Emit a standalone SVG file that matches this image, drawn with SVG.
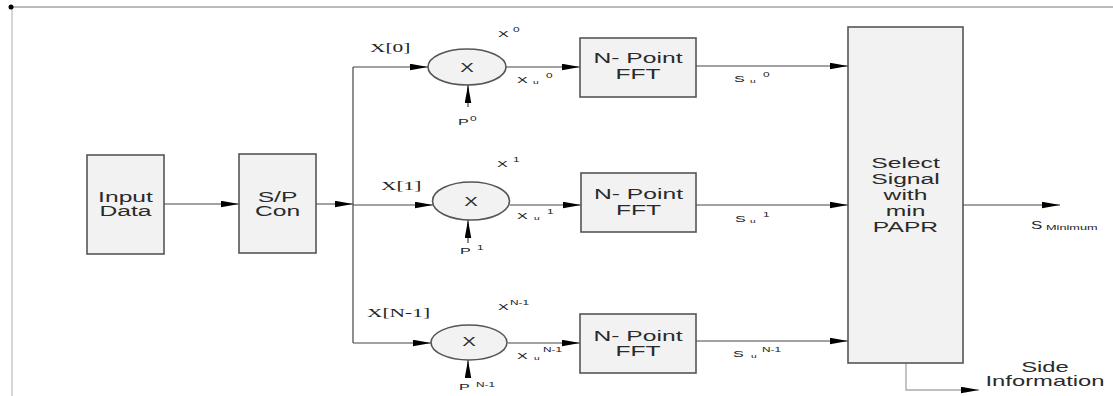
<svg xmlns="http://www.w3.org/2000/svg" width="1113" height="396" viewBox="0 0 1113 396">
<style>
.box{fill:#f2f2f2;stroke:#555;stroke-width:1.6}
.ln{fill:none;stroke:#444;stroke-width:1.2}
.lt{fill:none;stroke:#aaa;stroke-width:1.4}
.t{font-family:"Liberation Sans",Arial,sans-serif;font-size:14.5px;fill:#2a2a2a;text-anchor:middle}
.sf{font-family:"Liberation Serif","Times New Roman",serif;font-size:13px;fill:#222}
.sm{font-family:"Liberation Sans",Arial,sans-serif;font-size:9.5px;fill:#222}
.sup{font-family:"Liberation Sans",Arial,sans-serif;font-size:7px;fill:#222}
.sub{font-family:"Liberation Sans",Arial,sans-serif;font-size:6px;fill:#222}
</style>
<defs>
<marker id="ah" markerUnits="userSpaceOnUse" markerWidth="19" markerHeight="8" refX="18" refY="3.25" orient="auto">
<path d="M0,0 L18,3.25 L0,6.5 z" fill="#000"/>
</marker>
</defs>
<g id="frame">
<line x1="11" y1="7" x2="1113" y2="7" stroke="#777" stroke-width="1.2"/>
<line x1="12" y1="7" x2="12" y2="396" stroke="#ccc" stroke-width="1.6"/>
<circle cx="11" cy="7" r="2.5" fill="#000"/>
</g>
<g id="connectors">
<path class="ln" d="M164,204 H239" marker-end="url(#ah)"/>
<path class="ln" d="M316,204 H353" marker-end="url(#ah)"/>
<path class="ln" d="M353,67 V343"/>
<path class="ln" d="M353,67 H428" marker-end="url(#ah)"/>
<path class="ln" d="M353,205 H433" marker-end="url(#ah)"/>
<path class="ln" d="M353,343 H431" marker-end="url(#ah)"/>
<path class="ln" d="M506,67 H580" marker-end="url(#ah)"/>
<path class="ln" d="M510,205 H581" marker-end="url(#ah)"/>
<path class="ln" d="M508,343 H580" marker-end="url(#ah)"/>
<path class="ln" d="M468,107 V85" marker-end="url(#ah)"/>
<path class="ln" d="M468,243 V220" marker-end="url(#ah)"/>
<path class="ln" d="M468,378 V360" marker-end="url(#ah)"/>
<path class="ln" d="M696,66 H848" marker-end="url(#ah)"/>
<path class="ln" d="M696,205 H848" marker-end="url(#ah)"/>
<path class="ln" d="M696,341 H848" marker-end="url(#ah)"/>
<path class="ln" d="M963,205 H1060" marker-end="url(#ah)"/>
<path class="lt" d="M906,363 V390 H979" marker-end="url(#ah)"/>
</g>
<g id="input">
<rect class="box" x="87" y="155" width="77" height="99"/>
<text class="t" transform="translate(125.5,202) scale(1.7,1)">Input</text>
<text class="t" transform="translate(125.5,216) scale(1.7,1)">Data</text>
</g>
<g id="sp">
<rect class="box" x="239" y="154" width="77" height="99"/>
<text class="t" transform="translate(277.5,202) scale(1.7,1)">S/P</text>
<text class="t" transform="translate(277.5,216) scale(1.7,1)">Con</text>
</g>
<g id="mul0">
<ellipse class="box" cx="467" cy="67" rx="39" ry="18"/>
<text class="t" transform="translate(467,71.5) scale(1.7,1)" style="font-size:12px">X</text>
</g>
<g id="mul1">
<ellipse class="box" cx="471" cy="201" rx="38.5" ry="19"/>
<text class="t" transform="translate(471,205.5) scale(1.7,1)" style="font-size:12px">X</text>
</g>
<g id="mul2">
<ellipse class="box" cx="469" cy="342.5" rx="38" ry="17.5"/>
<text class="t" transform="translate(469,346) scale(1.7,1)" style="font-size:12px">X</text>
</g>
<g id="fft0">
<rect class="box" x="580" y="38" width="116" height="59"/>
<text class="t" transform="translate(638,63) scale(1.7,1)">N- Point</text>
<text class="t" transform="translate(638,79) scale(1.7,1)">FFT</text>
</g>
<g id="fft1">
<rect class="box" x="581" y="173" width="115" height="59"/>
<text class="t" transform="translate(638.5,199) scale(1.7,1)">N- Point</text>
<text class="t" transform="translate(638.5,215) scale(1.7,1)">FFT</text>
</g>
<g id="fft2">
<rect class="box" x="580" y="314" width="116" height="59"/>
<text class="t" transform="translate(638,341) scale(1.7,1)">N- Point</text>
<text class="t" transform="translate(638,356) scale(1.7,1)">FFT</text>
</g>
<g id="select">
<rect class="box" x="848" y="27" width="115" height="336"/>
<text class="t" transform="translate(905.5,168) scale(1.7,1)">Select</text>
<text class="t" transform="translate(905.5,184) scale(1.7,1)">Signal</text>
<text class="t" transform="translate(905.5,200) scale(1.7,1)">with</text>
<text class="t" transform="translate(905.5,216) scale(1.7,1)">min</text>
<text class="t" transform="translate(905.5,232) scale(1.7,1)">PAPR</text>
</g>
<g id="side">
<text class="t" transform="translate(1045,372) scale(1.7,1)" style="font-size:14px">Side</text>
<text class="t" transform="translate(1045,386) scale(1.7,1)" style="font-size:14px">Information</text>
</g>
<g id="labels">
<text class="sf" transform="translate(370,52) scale(1.65,1)">X[0]</text>
<text class="sf" transform="translate(381,190) scale(1.65,1)">X[1]</text>
<text class="sf" transform="translate(367,317) scale(1.65,1)">X[N-1]</text>

<text class="sm" transform="translate(498,37) scale(1.7,1)">X</text>
<text class="sup" transform="translate(513,32) scale(1.7,1)">0</text>
<text class="sm" transform="translate(497,167) scale(1.7,1)">X</text>
<text class="sup" transform="translate(513,162) scale(1.7,1)">1</text>
<text class="sm" transform="translate(498,310) scale(1.7,1)">X</text>
<text class="sup" transform="translate(510,305) scale(1.7,1)">N-1</text>

<text class="sm" transform="translate(517,83) scale(1.7,1)">X</text>
<text class="sub" transform="translate(533,84) scale(1.7,1)">u</text>
<text class="sup" transform="translate(546,78) scale(1.7,1)">0</text>
<text class="sm" transform="translate(517,219) scale(1.7,1)">X</text>
<text class="sub" transform="translate(534,220) scale(1.7,1)">u</text>
<text class="sup" transform="translate(547,214) scale(1.7,1)">1</text>
<text class="sm" transform="translate(517,359) scale(1.7,1)">X</text>
<text class="sub" transform="translate(534,360) scale(1.7,1)">u</text>
<text class="sup" transform="translate(543,352) scale(1.7,1)">N-1</text>

<text class="sm" transform="translate(458,125) scale(1.7,1)">P</text>
<text class="sup" transform="translate(470,121) scale(1.7,1)">0</text>
<text class="sm" transform="translate(460,254) scale(1.7,1)">P</text>
<text class="sup" transform="translate(477,250) scale(1.7,1)">1</text>
<text class="sm" transform="translate(459,390) scale(1.7,1)">P</text>
<text class="sup" transform="translate(476,387) scale(1.7,1)">N-1</text>

<text class="sm" transform="translate(734,82) scale(1.7,1)">S</text>
<text class="sub" transform="translate(750,83) scale(1.7,1)">u</text>
<text class="sup" transform="translate(763,77) scale(1.7,1)">0</text>
<text class="sm" transform="translate(735,222) scale(1.7,1)">S</text>
<text class="sub" transform="translate(750,223) scale(1.7,1)">u</text>
<text class="sup" transform="translate(763,217) scale(1.7,1)">1</text>
<text class="sm" transform="translate(733,357) scale(1.7,1)">S</text>
<text class="sub" transform="translate(751,358) scale(1.7,1)">u</text>
<text class="sup" transform="translate(762,352) scale(1.7,1)">N-1</text>

<text class="sm" transform="translate(1031,229) scale(1.7,1)" style="font-size:10px">S</text>
<text class="sub" transform="translate(1046,230) scale(1.7,1)" style="font-size:7.5px">Minimum</text>
</g>
</svg>
